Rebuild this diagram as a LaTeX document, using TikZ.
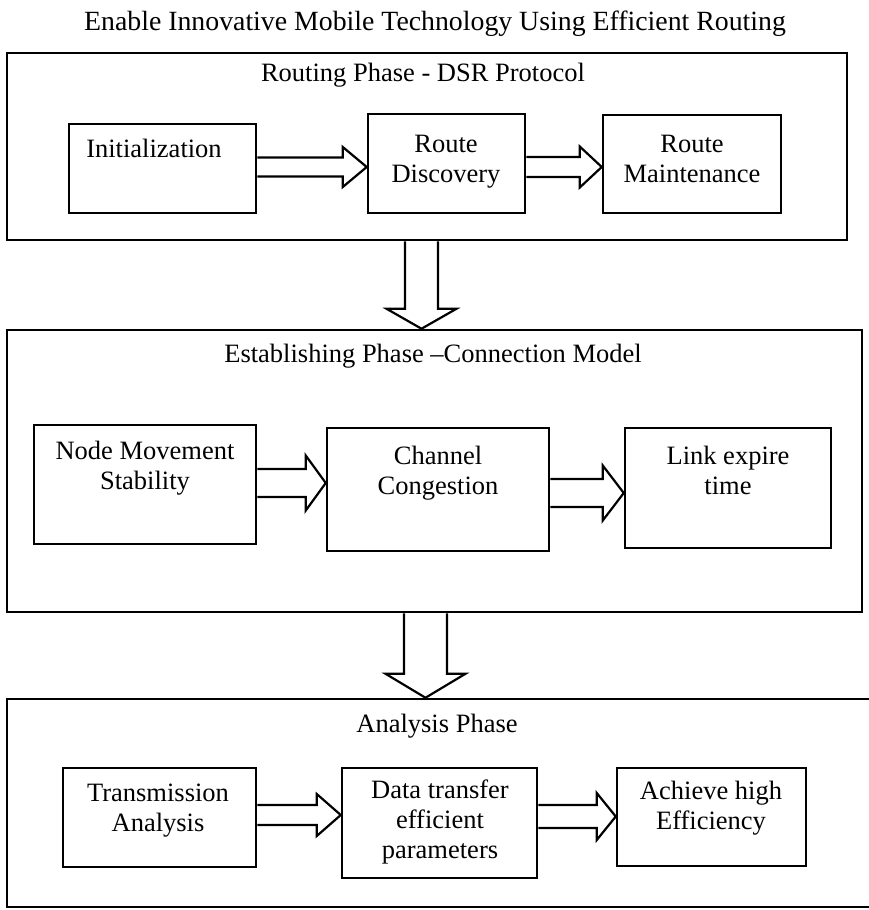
\documentclass[tikz,border=0pt]{standalone}
\usepackage{fontspec}
\setmainfont{Liberation Serif}
\usetikzlibrary{calc}

% box given by its corners: name, x1, y1, x2, y2
\newcommand\cornerbox[6][stage]{%
  \node[#1, minimum width={#5-#3}, minimum height={#6-#4}] (#2)
    at ({(#3+#5)/2},{(#4+#6)/2}) {};}

% hollow block arrow, left to right: from, to, y centre, half shaft, half head, head length
\newcommand\hblock[6]{%
  \draw[blk] (#1.east |- 0,#3-#4)
    -- ($(#2.west |- 0,#3-#4)+(-#6,0)$)
    -- ($(#2.west |- 0,#3-#5)+(-#6,0)$)
    -- (#2.west |- 0,#3)
    -- ($(#2.west |- 0,#3+#5)+(-#6,0)$)
    -- ($(#2.west |- 0,#3+#4)+(-#6,0)$)
    -- (#1.east |- 0,#3+#4);}

% hollow block arrow, top to bottom: from, to, x centre, half shaft, half head, head length
\newcommand\vblock[6]{%
  \draw[blk] (#1.south -| #3-#4,0)
    -- ($(#2.north -| #3-#4,0)+(0,-#6)$)
    -- ($(#2.north -| #3-#5,0)+(0,-#6)$)
    -- (#2.north -| #3,0)
    -- ($(#2.north -| #3+#5,0)+(0,-#6)$)
    -- ($(#2.north -| #3+#4,0)+(0,-#6)$)
    -- (#1.south -| #3+#4,0);}

\begin{document}
\begin{tikzpicture}[x=1pt,y=-1pt,
  phase/.style={draw, line width=2.5pt, inner sep=0pt},
  stage/.style={draw, line width=2.5pt, inner sep=0pt},
  blk/.style={draw, line width=2.2pt, line join=miter},
  txt/.style={align=center, anchor=base, inner sep=0pt,
    font=\fontsize{26.5}{30}\selectfont},
  ttl/.style={anchor=base, inner sep=0pt, font=\fontsize{27.8}{30}\selectfont}]
\useasboundingbox (0,0) rectangle (868,910);

% title
\node[ttl] (title) at (435,30) {Enable Innovative Mobile Technology Using Efficient Routing};

% phase frames
\cornerbox[phase]{routing}{7}{53}{847}{240}
\cornerbox[phase]{establish}{7}{330}{862}{612}
\cornerbox[phase]{analysis}{7}{699}{880}{907}

\node[txt] (routingT)   at (423,81)  {Routing Phase - DSR Protocol};
\node[txt] (establishT) at (433,362) {Establishing Phase \textendash Connection Model};
\node[txt] (analysisT)  at (437,732) {Analysis Phase};

% routing phase stages (text anchored at the baseline of its last line)
\cornerbox{init}{69}{124}{256}{213}
\cornerbox{disc}{368}{114}{525}{213}
\cornerbox{maint}{603}{115}{781}{213}
\node[txt] (initT)  at (154,157) {Initialization};
\node[txt] (discT)  at (446,182) {Route\\Discovery};
\node[txt] (maintT) at (692,182) {Route\\Maintenance};
\hblock{init}{disc}{167}{9.5}{20}{24}
\hblock{disc}{maint}{167}{10}{20.5}{22}

% establishing phase stages
\cornerbox{move}{34}{425}{256}{544}
\cornerbox{chan}{327}{428}{549}{551}
\cornerbox{link}{625}{428}{831}{548}
\node[txt] (moveT) at (145,489) {Node Movement\\Stability};
\node[txt] (chanT) at (438,494) {Channel\\Congestion};
\node[txt] (linkT) at (728,494) {Link expire\\time};
\hblock{move}{chan}{483}{14}{27.5}{20}
\hblock{chan}{link}{493}{14}{27.5}{21}

% analysis phase stages
\cornerbox{trans}{63}{768}{256}{867}
\cornerbox{data}{342}{768}{537}{878}
\cornerbox{high}{617}{768}{806}{866}
\node[txt] (transT) at (158,831) {Transmission\\Analysis};
\node[txt] (dataT)  at (440,858) {Data transfer\\efficient\\parameters};
\node[txt] (highT)  at (711,829) {Achieve high\\Efficiency};
\hblock{trans}{data}{815}{10}{21}{24}
\hblock{data}{high}{816.5}{11.5}{23.5}{19}

% links between phases
\vblock{routing}{establish}{421.5}{16.5}{35}{20}
\vblock{establish}{analysis}{425.5}{21.5}{40}{24}
\end{tikzpicture}
\end{document}
